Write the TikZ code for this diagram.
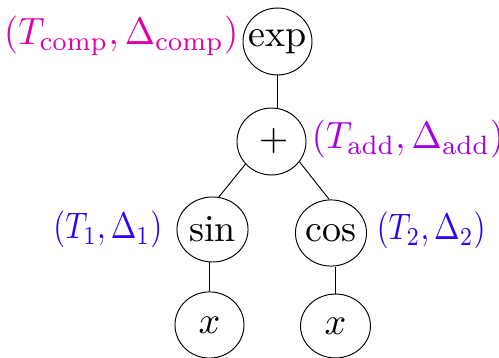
\documentclass[tikz,border=0pt]{standalone}
\usetikzlibrary{shapes.geometric}
\definecolor{compc}{RGB}{218,0,172}
\definecolor{addc}{RGB}{165,0,225}
\definecolor{leafc}{RGB}{45,0,255}
\begin{document}
\begin{tikzpicture}[x=0.263pt,y=-0.263pt,
  tnode/.style={draw,ellipse,inner sep=0pt,line width=0.25pt},
  lab/.style={inner sep=0pt},
  edge/.style={line width=0.25pt}]
\useasboundingbox (0,0) rectangle (499,358);
\node[tnode,minimum width=18.15pt,minimum height=17.6pt] (exp) at (277.5,41.5) {\makebox[0pt]{exp}};
\node[tnode,minimum width=18.15pt,minimum height=17.6pt] (plus) at (271.5,141.5) {\makebox[0pt]{\hspace{1.2pt}$+$}};
\node[tnode,minimum width=18.7pt,minimum height=17.1pt] (sin) at (212.5,229.5) {\makebox[0pt]{sin}};
\node[tnode,minimum width=18.7pt,minimum height=17.4pt] (cos) at (331,233) {\makebox[0pt]{cos}};
\node[tnode,minimum width=18.15pt,minimum height=17.4pt] (xl) at (209.5,325) {\makebox[0pt]{$x$}};
\node[tnode,minimum width=18.4pt,minimum height=16.8pt] (xr) at (335.5,326) {\makebox[0pt]{$x$}};
\draw[edge] (exp.south) -- (exp.south |- plus.north);
\draw[edge] (plus.221.6) -- (sin.79);
\draw[edge] (plus.324.8) -- (cos.93.5);
\draw[edge] (sin.south -| xl.north) -- (xl.north);
\draw[edge] (cos.south -| xr.north) -- (xr.north);
\node[lab,anchor=base east,text=compc] (lcomp) at (239,45) {\scalebox{0.955}[1.0]{$(T_{\mathrm{comp}},\Delta_{\mathrm{comp}})$}};
\node[lab,anchor=base west,text=addc] (ladd) at (311,149) {\scalebox{0.955}[1.0]{$(T_{\mathrm{add}},\Delta_{\mathrm{add}})$}};
\node[lab,anchor=base east,text=leafc] (l1) at (163,239) {\scalebox{0.81}[0.97]{$(T_1,\Delta_1)$}};
\node[lab,anchor=base west,text=leafc] (l2) at (376,240) {\scalebox{0.81}[0.97]{$(T_2,\Delta_2)$}};
\end{tikzpicture}
\end{document}
